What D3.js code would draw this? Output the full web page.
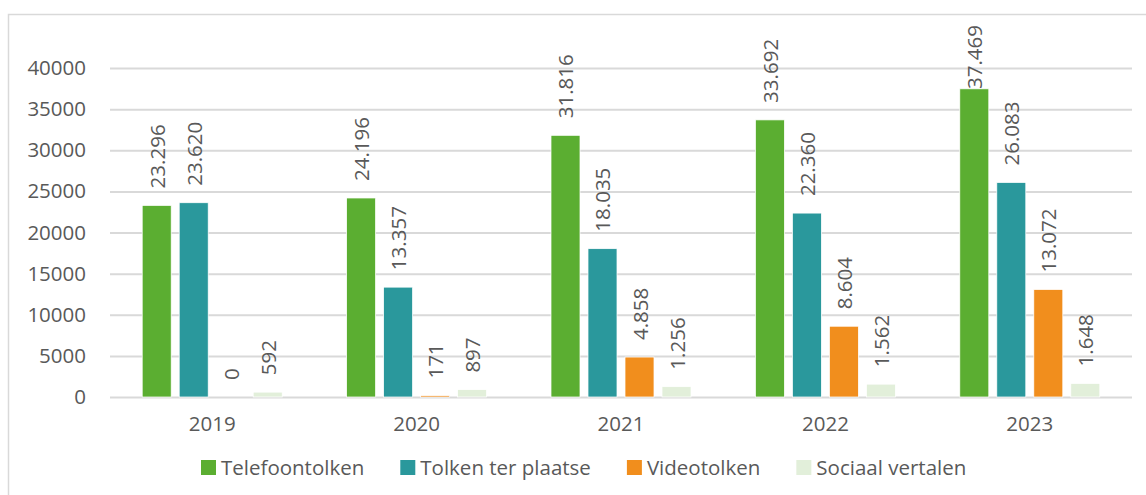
<!DOCTYPE html>
<html lang="nl">
<head>
    <meta charset="UTF-8">
    <title>Tolken per jaar</title>
    <script src="https://d3js.org/d3.v7.min.js"></script>
    <style>
        body {
            margin: 0;
            background: #fff;
            font-family: "Open Sans", Arial, sans-serif;
        }
        svg {
            display: block;
        }
        .tick text, .label, .legend text {
            fill: #595959;
        }
    </style>
</head>
<body>
    <svg id="chart" width="1146" height="495"></svg>

    <script>
        // data
        const years = ["2019", "2020", "2021", "2022", "2023"];
        const seriesNames = ["Telefoontolken", "Tolken ter plaatse", "Videotolken", "Sociaal vertalen"];
        const telefoontolken = [23296, 24196, 31816, 33692, 37469];
        const tolkenTerPlaatse = [23620, 13357, 18035, 22360, 26083];
        const videotolken = [0, 171, 4858, 8604, 13072];
        const sociaalVertalen = [592, 897, 1256, 1562, 1648];
        const yTicks = [0, 5000, 10000, 15000, 20000, 25000, 30000, 35000, 40000];
        const colors = ["#5bae31", "#2a989c", "#f18e1d", "#e2efda"];

        const allSeries = [telefoontolken, tolkenTerPlaatse, videotolken, sociaalVertalen];

        const svg = d3.select("#chart");
        const margin = { left: 110, right: 14, top: 68, bottom: 98 };
        const width = 1146 - margin.left - margin.right;
        const height = 495 - margin.top - margin.bottom;

        const nl = d3.formatLocale({ decimal: ",", thousands: ".", grouping: [3], currency: ["", ""] });
        const fmt = nl.format(",d");

        // chart border
        svg.append("rect")
            .attr("x", 8.5).attr("y", 14.5)
            .attr("width", 1150).attr("height", 500)
            .attr("fill", "none")
            .attr("stroke", "#d9d9d9")
            .attr("stroke-width", 1.5);

        const g = svg.append("g").attr("transform", `translate(${margin.left},${margin.top})`);

        const x0 = d3.scaleBand().domain(years).range([0, width]);
        const x1 = d3.scaleBand().domain(seriesNames).range([0, x0.bandwidth()])
            .paddingInner(0.216).paddingOuter(0.87);
        const y = d3.scaleLinear().domain([0, 40000]).range([height, 0]);

        // y axis + gridlines
        const yAxis = g.append("g")
            .call(d3.axisLeft(y).tickValues(yTicks).tickSize(-width).tickPadding(24).tickFormat(d3.format("d")));
        yAxis.select(".domain").remove();
        yAxis.selectAll(".tick line").attr("stroke", "#d9d9d9").attr("stroke-width", 2);
        yAxis.selectAll(".tick text").attr("font-size", "20.5px").attr("font-family", "'Open Sans', Arial, sans-serif");

        // x axis
        const xAxis = g.append("g")
            .attr("transform", `translate(0,${height})`)
            .call(d3.axisBottom(x0).tickSize(0).tickPadding(19));
        xAxis.select(".domain").remove();
        xAxis.selectAll(".tick text").attr("font-size", "20.5px").attr("font-family", "'Open Sans', Arial, sans-serif");

        // bars
        const rows = [];
        years.forEach((yr, i) => {
            seriesNames.forEach((s, j) => {
                rows.push({ year: yr, series: s, value: allSeries[j][i], color: colors[j] });
            });
        });

        const groups = g.append("g").selectAll("g")
            .data(rows)
            .enter()
            .append("g");

        groups.append("rect")
            .attr("x", d => x0(d.year) + x1(d.series))
            .attr("y", d => y(d.value))
            .attr("width", x1.bandwidth())
            .attr("height", d => height - y(d.value))
            .attr("fill", d => d.color)
            .attr("stroke", "#fff")
            .attr("stroke-width", 0.75);

        // rotated value labels
        groups.append("text")
            .attr("class", "label")
            .attr("font-size", "20.5px")
            .attr("text-anchor", "start")
            .attr("dominant-baseline", "central")
            .text(d => fmt(d.value))
            .each(function (d) {
                const len = this.getComputedTextLength();
                const cx = x0(d.year) + x1(d.series) + x1.bandwidth() / 2;
                const minEnd = 25 - margin.top + len;
                const yy = Math.max(y(d.value) - 17, minEnd);
                d3.select(this).attr("transform", `translate(${cx},${yy}) rotate(-90)`);
            });

        // legend
        const legend = svg.append("g").attr("class", "legend")
            .attr("transform", "translate(201,467)");
        let lx = 0;
        seriesNames.forEach((s, j) => {
            const item = legend.append("g").attr("transform", `translate(${lx},0)`);
            item.append("rect")
                .attr("x", 0).attr("y", -7)
                .attr("width", 15).attr("height", 15)
                .attr("fill", colors[j]);
            const t = item.append("text")
                .attr("x", 20)
                .attr("dominant-baseline", "central")
                .attr("font-size", "20.5px")
                .text(s);
            lx += 20 + t.node().getComputedTextLength() + 36;
        });
    </script>
</body>
</html>
